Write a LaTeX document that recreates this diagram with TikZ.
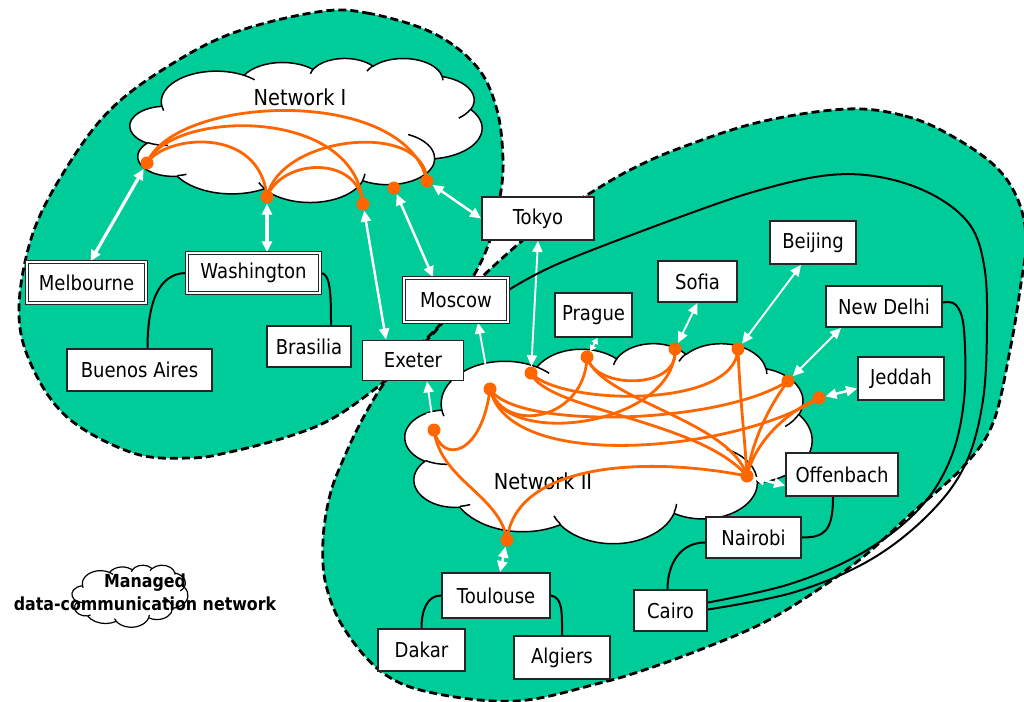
\documentclass[tikz,border=0pt]{standalone}
\usepackage{fontspec}
\setmainfont{DejaVu Sans}[FakeStretch=0.88]
\usetikzlibrary{arrows.meta}
\definecolor{zone}{RGB}{0,204,153}
\definecolor{link}{RGB}{255,102,0}
\pgfdeclarelayer{front}
\pgfsetlayers{main,front}

% one elliptic arc given like a preset-shape arcTo (visual start angle and sweep)
\tikzset{
  carc/.style n args={4}{insert path={arc[x radius=#1, y radius=#2,
     start angle={atan2((#1)*sin(#3),(#2)*cos(#3))},
     delta angle={mod(atan2((#1)*sin((#3)+(#4)),(#2)*cos((#3)+(#4)))-atan2((#1)*sin(#3),(#2)*cos(#3))+720,360)}]}},
}
% cloud outline in a 43.2 x 43.2 frame
\newcommand\cloudoutline{(3.900,14.370)
 [carc={6.753}{9.190}{-190.4875}{123.7805}]
 [carc={5.333}{7.267}{-144.1024}{89.9452}]
 [carc={4.365}{5.945}{-145.8079}{99.7230}]
 [carc={4.857}{6.595}{-130.9861}{117.2417}]
 [carc={5.333}{7.273}{-78.7089}{109.0269}]
 [carc={6.775}{9.220}{-46.2673}{130.2690}]
 [carc={5.785}{7.867}{0.6250}{114.0333}]
 [carc={6.752}{9.215}{22.4516}{115.1726}]
 [carc={7.720}{10.543}{66.2426}{75.7110}]
 [carc={4.360}{5.918}{-274.9421}{146.7356}]
 [carc={4.345}{5.945}{-246.8285}{152.5189}]
 -- cycle}
% the short inner creases of the cloud
\newcommand\cloudcreases{
 (4.693,26.177) [carc={4.345}{5.945}{86.742}{26.4295}]
 (6.928,34.899) [carc={4.360}{5.918}{73.6105}{11.4475}]
 (16.478,39.090) [carc={6.752}{9.215}{137.6242}{14.0811}]
 (28.827,34.751) [carc={6.752}{9.215}{6.4533}{15.9984}]
 (34.129,22.954) [carc={5.785}{7.867}{-70.2924}{70.9174}]
 (41.798,15.354) [carc={5.333}{7.273}{30.3180}{27.7515}]
 (38.324,5.426) [carc={4.857}{6.595}{-13.7443}{14.8661}]
 (29.078,3.952) [carc={4.857}{6.595}{-149.1815}{18.1928}]
 (22.141,4.720) [carc={4.365}{5.945}{-163.4943}{17.6994}]
 (14.000,5.192) [carc={6.753}{9.190}{-66.7070}{12.3194}]
 (4.127,15.789) [carc={6.753}{9.190}{157.6544}{11.8582}]}

\begin{document}
\begin{tikzpicture}[x=1pt, y=-1pt,
  zoneedge/.style={draw=black, line width=2.8pt, dash pattern=on 8pt off 4pt},
  cloudbody/.style={fill=white, draw=black, line width=1.5pt, line join=round},
  crease/.style={draw=black, line width=1.5pt},
  site/.style={draw=black!85, fill=white, line width=1.8pt, inner sep=0pt,
    font=\fontsize{20.5}{24}\selectfont},
  dbl/.style={double=white, double distance=1.8pt, line width=1.3pt},
  port/.style={circle, fill=link, inner sep=0pt, minimum size=13pt},
  oline/.style={draw=link, line width=2.8pt},
  bline/.style={draw=black, line width=2pt},
  warrow/.style={draw=white, line width=2.5pt,
    {Triangle[length=11pt,width=10pt]}-{Triangle[length=11pt,width=10pt]}},
  warrowthick/.style={warrow, line width=3.2pt},
  warrowthin/.style={warrow, line width=1.9pt},
  netlabel/.style={font=\fontsize{22}{26}\selectfont},
  legendtext/.style={font=\bfseries\fontsize{18}{23}\selectfont, align=center}]

\useasboundingbox (0,0) rectangle (1024,701);
\fill[white] (0,0) rectangle (1024,701);

% ---- the two management domains
\begin{scope}
\clip (0,0) rectangle (1024,701);
\fill[zone] plot[smooth cycle, tension=0.6] coordinates {
  (317,12) (367,13) (433,33) (477,67) (497,110) (503,160) (500,197) (490,240)
  (473,277) (443,322) (415,352) (385,381) (335,417) (290,436) (230,452)
  (190,458) (133,453) (67,417) (30,362) (19,307) (33,233) (67,167) (110,110)
  (167,67) (233,33)};
\fill[zone] plot[smooth cycle, tension=0.6] coordinates {
  (847,109) (905,116) (950,135) (995,166) (1018,200) (1026,240) (1020,290)
  (1010,350) (993,423) (963,467) (913,512) (863,557) (813,593) (763,623)
  (707,647) (650,668) (600,683) (517,701) (433,693) (383,673) (345,630)
  (326,585) (323,540) (330,495) (343,460) (362,420) (385,382) (410,355)
  (437,328) (460,302) (482,277) (523,240) (555,215) (587,195) (630,170)
  (680,148) (760,122)};
\draw[zoneedge] plot[smooth cycle, tension=0.6] coordinates {
  (317,12) (367,13) (433,33) (477,67) (497,110) (503,160) (500,197) (490,240)
  (473,277) (443,322) (415,352) (385,381) (335,417) (290,436) (230,452)
  (190,458) (133,453) (67,417) (30,362) (19,307) (33,233) (67,167) (110,110)
  (167,67) (233,33)};
\draw[zoneedge] plot[smooth cycle, tension=0.6] coordinates {
  (847,109) (905,116) (950,135) (995,166) (1018,200) (1026,240) (1020,290)
  (1010,350) (993,423) (963,467) (913,512) (863,557) (813,593) (763,623)
  (707,647) (650,668) (600,683) (517,701) (433,693) (383,673) (345,630)
  (326,585) (323,540) (330,495) (343,460) (362,420) (385,382) (410,355)
  (437,328) (460,302) (482,277) (523,240) (555,215) (587,195) (630,170)
  (680,148) (760,122)};
\end{scope}

% ---- clouds
\begin{scope}[shift={(130,58)}, x=8.1481pt, y=-3.3333pt]
  \path[cloudbody] \cloudoutline;
  \path[crease] \cloudcreases;
\end{scope}
\begin{scope}[shift={(405,343)}, x=9.4213pt, y=-4.6296pt]
  \path[cloudbody] \cloudoutline;
  \path[crease] \cloudcreases;
\end{scope}
\begin{scope}[shift={(72,565)}, x=2.6852pt, y=-1.4352pt]
  \path[cloudbody, line width=1.2pt] \cloudoutline;
  \path[crease, line width=1.2pt] \cloudcreases;
\end{scope}

\node[netlabel] (lab1) at (300,97) {Network I};
\node[netlabel] (lab2) at (543,481) {Network II};
\node[legendtext] (legend) at (145,592) {Managed\\data-communication network};

% ---- access points and sites
\begin{pgfonlayer}{front}
  \node[port] (pMel) at (147,163) {};
  \node[port] (pWas) at (267,197) {};
  \node[port] (pExe1) at (363,204) {};
  \node[port] (pMos1) at (394,188) {};
  \node[port] (pTok1) at (427,181) {};
  \node[port] (pExe2) at (434,430) {};
  \node[port] (pMos2) at (490,389) {};
  \node[port] (pTok2) at (531,373) {};
  \node[port] (pPra) at (587,357) {};
  \node[port] (pSof) at (675,349) {};
  \node[port] (pBei) at (738,349) {};
  \node[port] (pDel) at (788,381) {};
  \node[port] (pJed) at (819,398) {};
  \node[port] (pOfb) at (747,476) {};
  \node[port] (pTou) at (507,540) {};

  \node[site, dbl, minimum width=119pt, minimum height=41pt] (mel) at (86.5,282.5) {Melbourne};
  \node[site, dbl, minimum width=133pt, minimum height=40pt] (was) at (253.5,273) {Washington};
  \node[site, minimum width=145pt, minimum height=42pt] (ba) at (139.5,370) {Buenos Aires};
  \node[site, minimum width=84pt, minimum height=41pt] (bra) at (309,346.5) {Brasilia};
  \node[site, minimum width=101pt, minimum height=40pt] (exe) at (413,360.5) {Exeter};
  \node[site, dbl, minimum width=104pt, minimum height=44pt] (mos) at (456,300) {Moscow};
  \node[site, minimum width=112pt, minimum height=43pt] (tok) at (538,218.5) {Tokyo};
  \node[site, minimum width=77pt, minimum height=44pt] (pra) at (593.5,315) {Prague};
  \node[site, minimum width=79pt, minimum height=41pt] (sof) at (697.5,281.5) {Sofia};
  \node[site, minimum width=86pt, minimum height=43pt] (bei) at (813,242.5) {Beijing};
  \node[site, minimum width=116pt, minimum height=41pt] (del) at (884,306.5) {New Delhi};
  \node[site, minimum width=86pt, minimum height=43pt] (jed) at (901,378.5) {Jeddah};
  \node[site, minimum width=112pt, minimum height=43pt] (ofb) at (842,474.5) {Offenbach};
  \node[site, minimum width=95pt, minimum height=41pt] (nai) at (753.5,537.5) {Nairobi};
  \node[site, minimum width=73pt, minimum height=41pt] (cai) at (670.5,610.5) {Cairo};
  \node[site, minimum width=108pt, minimum height=45pt] (tou) at (496,595.5) {Toulouse};
  \node[site, minimum width=87pt, minimum height=42pt] (dak) at (421.5,650) {Dakar};
  \node[site, minimum width=96pt, minimum height=43pt] (alg) at (562,657.5) {Algiers};
\end{pgfonlayer}

% ---- links inside Network I
\draw[oline] (pMel.center) .. controls (175,95) and (405,85) .. (pTok1.center);
\draw[oline] (pMel.center) .. controls (170,110) and (355,105) .. (pExe1.center);
\draw[oline] (pMel.center) .. controls (165,135) and (260,125) .. (pWas.center);
\draw[oline] (pWas.center) .. controls (280,135) and (425,120) .. (pTok1.center);
\draw[oline] (pWas.center) .. controls (282,158) and (358,155) .. (pExe1.center);

% ---- links inside Network II
\draw[oline] (pExe2.center) .. controls (442,465) and (482,455) .. (pMos2.center);
\draw[oline] (pExe2.center) .. controls (440,480) and (500,495) .. (pTou.center);
\draw[oline] (pTou.center) .. controls (515,465) and (640,455) .. (pOfb.center);
\draw[oline] (pMos2.center) .. controls (505,435) and (585,420) .. (pPra.center);
\draw[oline] (pMos2.center) .. controls (505,450) and (675,425) .. (pSof.center);
\draw[oline] (pMos2.center) .. controls (515,430) and (720,425) .. (pDel.center);
\draw[oline] (pMos2.center) .. controls (510,475) and (740,450) .. (pJed.center);
\draw[oline] (pTok2.center) .. controls (560,405) and (735,410) .. (pBei.center);
\draw[oline] (pTok2.center) .. controls (545,410) and (700,420) .. (pOfb.center);
\draw[oline] (pPra.center) .. controls (595,390) and (680,390) .. (pSof.center);
\draw[oline] (pPra.center) .. controls (600,400) and (730,420) .. (pOfb.center);
\draw[oline] (pBei.center) .. controls (740,400) and (745,440) .. (pOfb.center);
\draw[oline] (pDel.center) .. controls (770,405) and (752,440) .. (pOfb.center);
\draw[oline] (pJed.center) .. controls (790,410) and (755,440) .. (pOfb.center);

% ---- access arrows
\draw[warrowthick] (pMel) -- ([xshift=4pt]mel.north);
\draw[warrowthick] (pWas) -- (pWas |- was.north);
\draw[warrow] (pExe1) -- ([xshift=-27pt]exe.north);
\draw[warrow] (pMos1) -- ([xshift=-23pt]mos.north);
\draw[warrow] (pTok1) -- (tok.west);
\draw[warrowthin] ([xshift=14pt]exe.south) -- (pExe2);
\draw[warrowthin] ([xshift=22pt]mos.south) -- (pMos2);
\draw[warrowthin] (tok.south) -- (pTok2);
\draw[warrowthin, {Triangle[length=6pt,width=7pt]}-{Triangle[length=6pt,width=7pt]}] ([xshift=4pt]pra.south) -- (pPra);
\draw[warrowthin] (sof.south) -- (pSof);
\draw[warrowthin] ([xshift=-12pt]bei.south) -- (pBei);
\draw[warrowthin] ([xshift=-43pt]del.south) -- (pDel);
\draw[warrow] ([yshift=-10pt]jed.west) -- (pJed);
\draw[warrow] ([yshift=-11pt]ofb.west) -- (pOfb);
\draw[warrow] ([xshift=4pt]tou.north) -- (pTou);

% ---- site-to-site lines
\draw[bline] (was.west) .. controls +(-28,0) and +(0,-45) .. ([xshift=8pt]ba.north);
\draw[bline] (was.east) .. controls +(10,0) and +(0,-30) .. ([xshift=22pt]bra.north);
\draw[bline] (tou.west) .. controls +(-14,0) and +(0,-18) .. (dak.north);
\draw[bline] (tou.east) .. controls +(12,2) and +(0,-22) .. (alg.north);
\draw[bline] ([xshift=-9pt]ofb.south) .. controls +(0,35) and +(22,0) .. (nai.east);
\draw[bline] ([yshift=-5pt]nai.west) .. controls +(-25,0) and +(0,-25) .. ([xshift=-3pt]cai.north);
\draw[bline] plot[smooth, tension=0.6] coordinates {([yshift=10pt]mos.east) (560,263)
  (680,217) (760,190) (830,175) (885,178) (935,196) (970,225) (984,265) (987,320)
  (983,400) (965,465) (928,515) (870,560) (795,592) ([yshift=1pt]cai.east)};
\draw[bline] plot[smooth, tension=0.6] coordinates {([yshift=4pt]del.east) (956,305)
  (964,330) (964,400) (950,460) (918,510) (862,553) (790,584) ([yshift=8pt]cai.east)};
\end{tikzpicture}
\end{document}
